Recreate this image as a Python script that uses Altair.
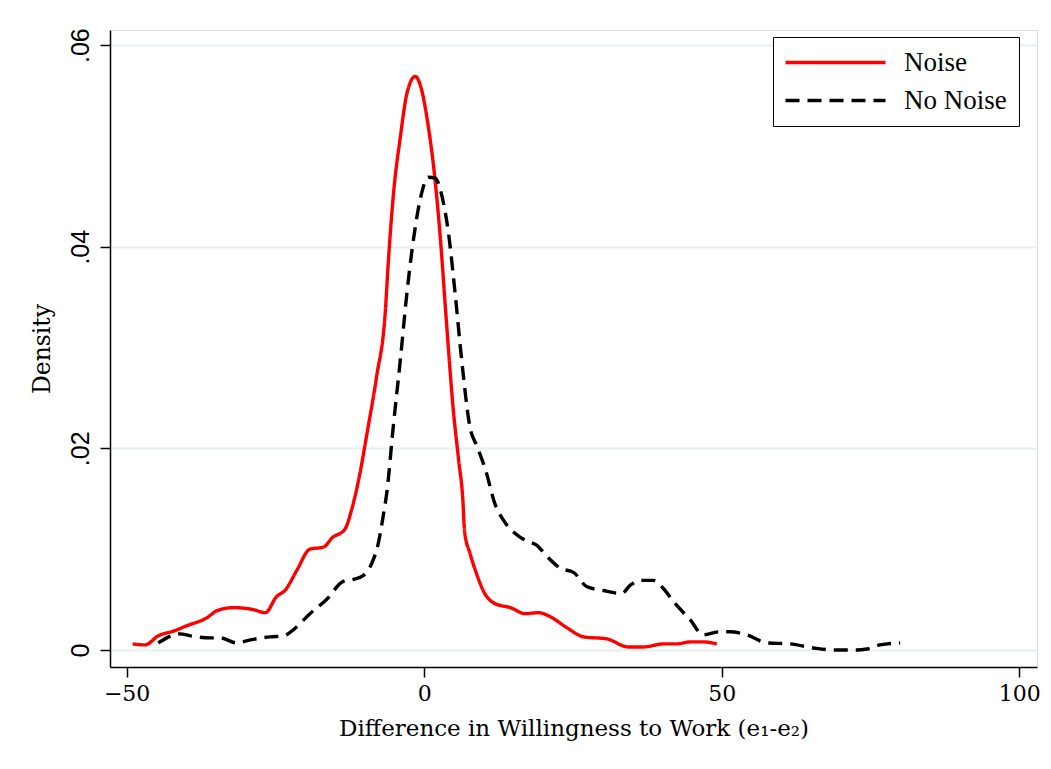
import altair as alt
import pandas as pd

# Noise (red, solid)
noise_x = [-49.0, -46.9, -44.7, -42.0, -39.9, -36.5, -34.8, -32.0, -28.7, -26.7, -24.8, -23.4,
           -21.4, -19.2, -16.9, -15.5, -13.3, -12.2, -11.0, -9.6, -8.0, -6.55, -6.0, -5.15,
           -4.0, -2.9, -1.5, -0.4, 0.7, 1.6, 2.7, 3.8, 4.9, 5.8, 6.5, 6.8, 7.7, 8.9, 10.0,
           11.9, 14.5, 17.0, 19.2, 21.2, 24.0, 26.8, 30.7, 34.3, 36.9, 40.2, 42.5, 44.7,
           46.9, 49.2]
noise_y = [0.0006, 0.0005, 0.0014, 0.0019, 0.0024, 0.0032, 0.0039, 0.0042, 0.0040, 0.0037,
           0.0053, 0.0059, 0.0079, 0.0100, 0.0102, 0.0111, 0.0120, 0.0139, 0.0169, 0.0215,
           0.0271, 0.0334, 0.0387, 0.0453, 0.0509, 0.0552, 0.0569, 0.0555, 0.0519, 0.0479,
           0.0410, 0.0321, 0.0238, 0.0188, 0.0149, 0.0117, 0.0096, 0.0074, 0.0058, 0.0046,
           0.0042, 0.0036, 0.0037, 0.0033, 0.0022, 0.0013, 0.0011, 0.0003, 0.0003, 0.0006,
           0.0006, 0.0008, 0.0008, 0.0006]

# No Noise (black, dashed)
nonoise_x = [-44.7, -41.0, -39.3, -36.0, -34.3, -31.5, -29.2, -25.9, -23.6, -22.0, -19.2,
             -16.4, -13.6, -11.9, -10.2, -8.8, -7.7, -6.8, -6.3, -5.2, -4.0, -2.9, -1.8,
             -0.7, 0.7, 1.85, 3.0, 4.1, 5.2, 6.3, 7.7, 8.9, 10.3, 11.9, 13.3, 16.1, 17.3,
             18.9, 20.6, 22.9, 25.1, 27.3, 30.1, 33.2, 34.6, 36.3, 38.5, 40.2, 41.9, 44.7,
             46.9, 49.5, 51.4, 54.2, 57.6, 61.5, 65.4, 68.8, 72.7, 74.4, 76.6, 80.0]
nonoise_y = [0.0007, 0.0016, 0.0014, 0.0012, 0.0012, 0.0007, 0.0010, 0.0013, 0.0014, 0.0020,
             0.0036, 0.0050, 0.0068, 0.0070, 0.0074, 0.0086, 0.0106, 0.0136, 0.0155, 0.0221,
             0.0288, 0.0354, 0.0407, 0.0446, 0.0469, 0.0468, 0.0450, 0.0413, 0.0354, 0.0288,
             0.0221, 0.0202, 0.0179, 0.0145, 0.0129, 0.0112, 0.0108, 0.0104, 0.0093, 0.0081,
             0.0077, 0.0063, 0.0059, 0.0056, 0.0064, 0.0069, 0.0069, 0.0061, 0.0048, 0.0030,
             0.0015, 0.0018, 0.0018, 0.0015, 0.0007, 0.0006, 0.0002, 0.0000, 0.0000, 0.0001,
             0.0005, 0.0007]

series = ["Noise", "No Noise"]
x_ticks = [-50, 0, 50, 100]
y_ticks = [0, 0.02, 0.04, 0.06]

rows = []
for i, (a, b) in enumerate(zip(noise_x, noise_y)):
    rows.append({"x": a, "y": b, "group": "Noise", "order": i})
for i, (a, b) in enumerate(zip(nonoise_x, nonoise_y)):
    rows.append({"x": a, "y": b, "group": "No Noise", "order": i})
df = pd.DataFrame(rows)

label_expr = ("datum.value == 0 ? '0' : datum.value == 0.02 ? '.02' : "
              "datum.value == 0.04 ? '.04' : '.06'")

lines = alt.Chart(df).mark_line(strokeWidth=3.4, clip=True, interpolate="monotone").encode(
    x=alt.X("x:Q",
            scale=alt.Scale(domain=[-52.8, 103], nice=False, zero=False),
            axis=alt.Axis(values=x_ticks, title="Difference in Willingness to Work (e\u2081-e\u2082)",
                          grid=False, tickSize=10, labelPadding=6,
                          labelFont="DejaVu Serif", labelFontSize=22, labelColor="#000000",
                          titleFont="DejaVu Serif", titleFontSize=23, titleFontWeight="normal",
                          titleColor="#000000", titlePadding=13,
                          domainColor="#000000", domainWidth=1.5,
                          tickColor="#000000", tickWidth=1.5)),
    y=alt.Y("y:Q",
            scale=alt.Scale(domain=[-0.00169, 0.0615], nice=False, zero=False),
            axis=alt.Axis(values=y_ticks, labelExpr=label_expr, title="Density",
                          grid=True, gridColor="#e6eff1", gridWidth=2,
                          tickSize=10, labelAngle=270, labelAlign="center",
                          labelBaseline="alphabetic", labelPadding=12,
                          labelFont="Liberation Sans", labelFontSize=25, labelColor="#000000",
                          titleFont="DejaVu Serif", titleFontSize=23.5, titleFontWeight="normal",
                          titleColor="#000000", titlePadding=14,
                          domainColor="#000000", domainWidth=1.5,
                          tickColor="#000000", tickWidth=1.5)),
    color=alt.Color("group:N",
                    scale=alt.Scale(domain=series, range=["#ff0000", "#000000"]),
                    legend=alt.Legend(title=None, orient="none", legendX=663, legendY=7,
                                      symbolType="M-5,0H5", symbolSize=400, symbolOffset=37,
                                      symbolStrokeWidth=3.4, labelFont="Liberation Serif",
                                      labelFontSize=27, labelColor="#000000", labelOffset=55,
                                      rowPadding=10, padding=12, strokeColor="#000000",
                                      fillColor="#ffffff", cornerRadius=0,
                                      labelLimit=400)),
    strokeDash=alt.StrokeDash("group:N",
                              scale=alt.Scale(domain=series, range=[[1, 0], [14, 8]]),
                              legend=None),
    detail="group:N",
    order="order:Q",
)

chart = lines.properties(
    width=927, height=637,
    padding={"left": 102, "top": 22, "right": 6, "bottom": 90},
    autosize=alt.AutoSizeParams(type="none"),
).configure_view(stroke=None).configure(background="#ffffff")

chart.save("out.html", embed_options={"renderer": "svg", "actions": False})
